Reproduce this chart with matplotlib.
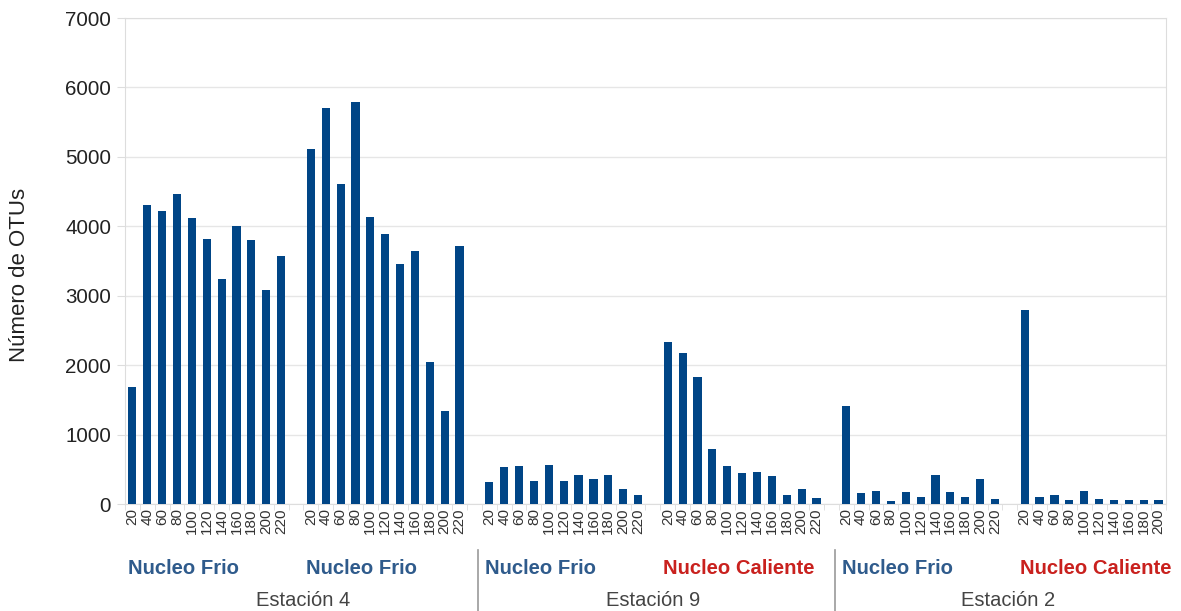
import matplotlib.pyplot as plt
import numpy as np
from matplotlib.transforms import blended_transform_factory

plt.rcParams["font.family"] = ["Liberation Sans", "DejaVu Sans"]

depths_220 = ["20", "40", "60", "80", "100", "120", "140", "160", "180", "200", "220"]
depths_200 = depths_220[:-1]

est4_frio_a = [1685, 4300, 4220, 4470, 4120, 3820, 3240, 4010, 3800, 3080, 3570]
est4_frio_b = [5120, 5700, 4610, 5790, 4135, 3890, 3453, 3650, 2050, 1345, 3710]
est9_frio = [316, 526, 545, 335, 565, 325, 411, 359, 421, 220, 124]
est9_caliente = [2340, 2172, 1828, 794, 545, 445, 455, 407, 124, 220, 81]
est2_frio = [1416, 163, 191, 38, 172, 105, 411, 177, 105, 359, 77]
est2_caliente = [2794, 100, 129, 62, 191, 77, 53, 53, 57, 53]

groups = [
    ("Nucleo Frio", depths_220, est4_frio_a),
    ("Nucleo Frio", depths_220, est4_frio_b),
    ("Nucleo Frio", depths_220, est9_frio),
    ("Nucleo Caliente", depths_220, est9_caliente),
    ("Nucleo Frio", depths_220, est2_frio),
    ("Nucleo Caliente", depths_200, est2_caliente),
]
stations = ["Estación 4", "Estación 9", "Estación 2"]

bar_color = "#004586"
label_colors = {"Nucleo Frio": "#2f5b8c", "Nucleo Caliente": "#c9211e"}

fig = plt.figure(figsize=(11.81, 6.11), dpi=100)
ax = fig.add_axes([0.1058, 0.1751, 0.8815, 0.7954])

# lay the groups out on one axis, with an empty slot between groups
xs, heights, labels, starts = [], [], [], []
pos = 0
for name, depths, vals in groups:
    starts.append(pos)
    for d, v in zip(depths, vals):
        xs.append(pos)
        heights.append(v)
        labels.append(d)
        pos += 1
    pos += 1
n_slots = pos - 1

ax.bar(xs, heights, width=0.55, color=bar_color, zorder=3)
ax.set_xlim(-0.5, n_slots - 0.5)
ax.set_ylim(0, 7000)
ax.set_yticks(np.arange(0, 7001, 1000))
ax.grid(axis="y", color="#e6e6e6", linewidth=1, zorder=0)
ax.set_xticks(xs)
ax.set_xticklabels(labels, rotation=90, fontsize=11, color="#333333")
ax.set_xticks(np.arange(-0.5, n_slots, 1), minor=True)
ax.tick_params(axis="x", which="major", length=0, pad=3)
ax.tick_params(axis="x", which="minor", length=4, color="#dddddd")
ax.tick_params(axis="y", length=6, color="#dddddd", labelsize=14.8,
               labelcolor="#222222", pad=4)
for s in ax.spines.values():
    s.set_color("#dddddd")

fig.text(20 / 1181, 1 - 275 / 611, "Número de OTUs", rotation=90, ha="center",
         va="center", fontsize=16, color="#222222")

tr = blended_transform_factory(ax.transData, fig.transFigure)
for (name, depths, vals), st in zip(groups, starts):
    ax.text(st - 0.3, 1 - 568 / 611, name, transform=tr, ha="left", va="center",
            fontsize=14.6, fontweight="bold", color=label_colors[name])

station_centers = [(starts[0] - 0.5 + starts[2] - 1.5) / 2 + 0.5,
                   (starts[2] - 1 + starts[4] - 1) / 2,
                   (starts[4] - 1 + n_slots + 0.7) / 2]
for name, cx in zip(stations, station_centers):
    ax.text(cx, 1 - 600 / 611, name, transform=tr, ha="center", va="center",
            fontsize=14.5, color="#444444")

for st in (starts[2], starts[4]):
    ax.plot([st - 0.75, st - 0.75], [1 - 550 / 611, 0], transform=tr,
            color="#999999", linewidth=1.2, clip_on=False)

fig.savefig("out.png", dpi=100)
